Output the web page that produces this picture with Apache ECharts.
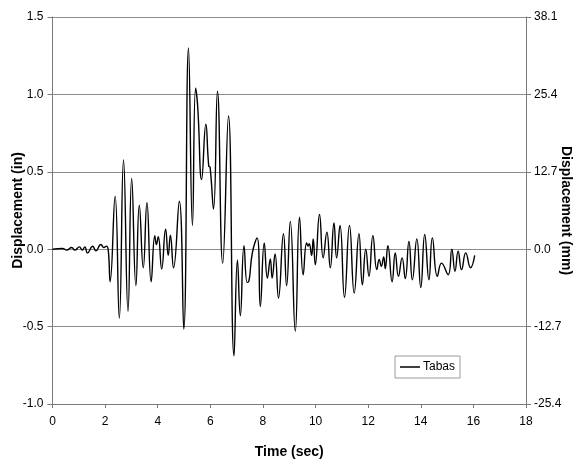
<!DOCTYPE html>
<html>
<head>
<meta charset="utf-8">
<script src="https://cdn.jsdelivr.net/npm/echarts@6/dist/echarts.min.js"></script>
<style>
html,body{margin:0;padding:0;background:#fff;}
#c{width:574px;height:464px;}
</style>
</head>
<body>
<div id="c"></div>
<script>
var seriesName = 'Tabas';
var timeSec = [0,0.38,0.54,0.73,0.85,1.02,1.13,1.23,1.33,1.53,1.65,1.84,1.95,2.05,2.12,
2.19,2.38,2.54,2.70,2.87,3.01,3.17,3.30,3.45,3.59,3.75,3.89,3.95,4.02,4.15,4.30,4.40,4.48,4.60,4.82,4.99,
5.17,5.32,5.44,5.52,5.67,5.83,5.94,5.99,6.12,6.27,6.47,6.69,6.90,7.03,7.14,7.28,7.40,7.46,7.60,7.78,7.90,
8.05,8.17,8.28,8.35,8.46,8.59,8.78,8.90,9.04,9.23,9.39,9.53,9.66,9.72,9.76,9.85,9.91,9.99,
10.15,10.29,10.43,10.56,10.70,10.80,10.93,11.10,11.29,11.47,11.65,11.78,11.91,12.03,12.18,12.33,12.42,12.50,12.59,12.65,
12.75,12.91,13.03,13.15,13.29,13.41,13.55,13.68,13.85,14.00,14.15,14.31,14.44,14.63,14.79,15.04,15.18,15.30,15.42,15.55,15.71,15.89,16.05];
var dispIn = [0,0.005,-0.006,0.011,-0.006,0.015,-0.006,0.015,-0.024,0.019,-0.011,0.03,0.011,0.02,-0.006,
-0.21,0.34,-0.445,0.576,-0.40,0.457,-0.236,0.284,-0.12,0.30,-0.21,0.088,0.03,0.08,-0.128,0.13,-0.04,0.09,-0.12,0.31,-0.516,
1.30,0.153,1.04,0.92,0.45,0.807,0.537,0.53,0.26,1.02,-0.09,0.86,-0.69,-0.07,-0.43,0.023,-0.214,-0.21,-0.02,0.073,-0.37,
0.04,-0.186,-0.063,-0.186,-0.03,-0.315,0.10,-0.236,0.18,-0.53,0.207,-0.165,0.04,0.02,0.035,-0.04,0.067,-0.1,
0.224,-0.056,0.11,-0.12,0.17,-0.056,0.153,-0.31,0.153,-0.283,0.10,-0.23,0.0,-0.175,0.088,-0.132,-0.067,-0.11,-0.05,-0.125,
0.023,-0.21,-0.024,-0.175,-0.056,-0.19,0.05,-0.197,0.067,-0.247,0.095,-0.197,0.073,-0.175,-0.09,-0.165,0.0,-0.143,-0.013,-0.132,-0.024,-0.12,-0.04];
var xTicks = {min:0, max:18, interval:2};
var yInTicks = {min:-1.0, max:1.5, interval:0.5};
var yMmTicks = {min:-25.4, max:38.1, interval:12.7};
var xTitle = 'Time (sec)';
var yLeftTitle = 'Displacement (in)';
var yRightTitle = 'Displacement (mm)';

var data = timeSec.map(function(t,i){return [t, dispIn[i]];});
var font = 'Liberation Sans, Arial, sans-serif';
var axisLineColor = '#7a7a7a';
var chart = echarts.init(document.getElementById('c'));
chart.setOption({
  animation:false,
  backgroundColor:'#ffffff',
  grid:{left:52.5, right:48, top:17, bottom:60, containLabel:false, outerBoundsMode:'none'},
  legend:{
    left:395, top:356, data:[{name:seriesName, icon:'rect'}],
    itemWidth:20, itemHeight:1.5, itemGap:4,
    padding:[5,5,5,5], borderColor:'#9a9a9a', borderWidth:1, borderRadius:0,
    textStyle:{fontFamily:font, fontSize:12, color:'#000', padding:[0,0,0,-2]}
  },
  xAxis:{
    type:'value', min:xTicks.min, max:xTicks.max, interval:xTicks.interval,
    name:xTitle, nameLocation:'middle', nameGap:41, nameMoveOverlap:false,
    nameTextStyle:{fontFamily:font, fontSize:14, fontWeight:'bold', color:'#000'},
    axisLine:{show:true, onZero:false, lineStyle:{color:axisLineColor, width:1}},
    axisTick:{show:true, length:4, lineStyle:{color:axisLineColor}},
    axisLabel:{fontFamily:font, fontSize:12, color:'#000', margin:12},
    splitLine:{show:false}
  },
  yAxis:[{
    type:'value', min:yInTicks.min, max:yInTicks.max, interval:yInTicks.interval, position:'left',
    name:yLeftTitle, nameLocation:'middle', nameGap:27, nameRotate:90, nameMoveOverlap:false,
    nameTextStyle:{fontFamily:font, fontSize:14, fontWeight:'bold', color:'#000'},
    axisLine:{show:true, onZero:false, lineStyle:{color:axisLineColor, width:1}},
    axisTick:{show:true, length:5, lineStyle:{color:axisLineColor}},
    axisLabel:{fontFamily:font, fontSize:12, color:'#000', margin:9, formatter:function(v){return v.toFixed(1);}},
    splitLine:{show:true, lineStyle:{color:'#8c8c8c', width:1}}
  },{
    type:'value', min:yMmTicks.min, max:yMmTicks.max, interval:yMmTicks.interval, position:'right',
    name:yRightTitle, nameLocation:'middle', nameGap:33, nameRotate:-90, nameMoveOverlap:false,
    nameTextStyle:{fontFamily:font, fontSize:14, fontWeight:'bold', color:'#000'},
    axisLine:{show:true, onZero:false, lineStyle:{color:axisLineColor, width:1}},
    axisTick:{show:true, length:5, lineStyle:{color:axisLineColor}},
    axisLabel:{fontFamily:font, fontSize:12, color:'#000', margin:8, formatter:function(v){return v.toFixed(1);}},
    splitLine:{show:false}
  }],
  series:[{
    name:seriesName, type:'line', data:data, yAxisIndex:0,
    smooth:0.5, showSymbol:false, symbol:'none',
    lineStyle:{color:'#000', width:1.4}, itemStyle:{color:'#000'}
  }]
});
</script>
</body>
</html>
